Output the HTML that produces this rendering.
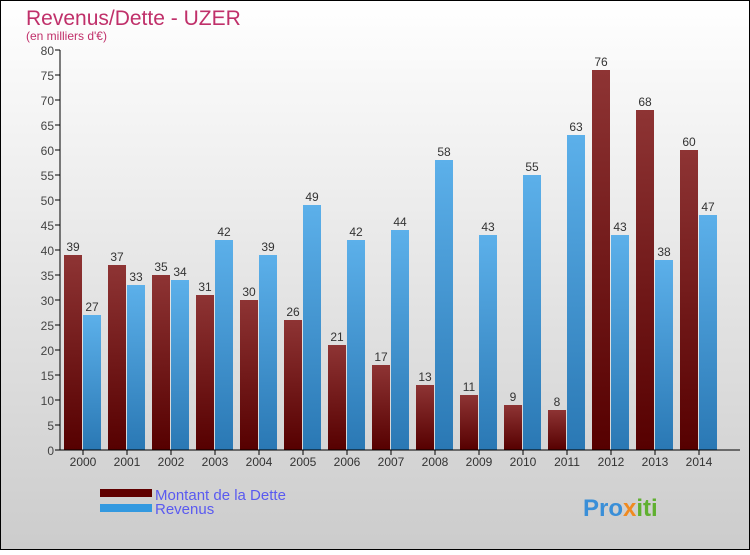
<!DOCTYPE html>
<html><head><meta charset="utf-8"><style>
body{margin:0;width:750px;height:550px;overflow:hidden;font-family:"Liberation Sans",sans-serif}
</style></head><body>
<svg width="750" height="550" xmlns="http://www.w3.org/2000/svg">
<defs>
<linearGradient id="bg" x1="0" y1="0" x2="0" y2="1"><stop offset="0" stop-color="#ffffff"/><stop offset="1" stop-color="#cccccc"/></linearGradient>
<linearGradient id="gd" x1="0" y1="0" x2="0" y2="1"><stop offset="0" stop-color="#8e3434"/><stop offset="1" stop-color="#560000"/></linearGradient>
<linearGradient id="gr" x1="0" y1="0" x2="0" y2="1"><stop offset="0" stop-color="#5cb0ea"/><stop offset="1" stop-color="#2a78b4"/></linearGradient>
</defs>
<rect x="0.5" y="0.5" width="749" height="549" fill="url(#bg)" stroke="#000"/>
<text x="26" y="25" font-size="21" fill="#c0306a">Revenus/Dette - UZER</text>
<text x="26" y="40" font-size="12" fill="#c0306a">(en milliers d'€)</text>
<g id="plot"></g>
<rect x="100" y="489" width="52" height="8" fill="#600000"/>
<rect x="100" y="504" width="52" height="8" fill="#3399e0"/>
<text x="155" y="500" font-size="15" fill="#5a5af0">Montant de la Dette</text>
<text x="155" y="514" font-size="15" fill="#5a5af0">Revenus</text>
<text x="583" y="516" font-size="24" font-weight="bold" fill="#3a8fd8">Pro<tspan fill="#f08a20">x</tspan><tspan fill="#60b030">iti</tspan></text>
</svg>
<script>
const years=["2000","2001","2002","2003","2004","2005","2006","2007","2008","2009","2010","2011","2012","2013","2014"];
const dette=[39,37,35,31,30,26,21,17,13,11,9,8,76,68,60];
const revenus=[27,33,34,42,39,49,42,44,58,43,55,63,43,38,47];
const yTicks=[0,5,10,15,20,25,30,35,40,45,50,55,60,65,70,75,80];
const NS="http://www.w3.org/2000/svg";
const g=document.getElementById('plot');
const y=v=>450-v*5;
const xc=i=>83+i*44;
function mk(t,a,txt){const e=document.createElementNS(NS,t);for(const k in a)e.setAttribute(k,a[k]);if(txt!==undefined)e.textContent=txt;g.appendChild(e);return e;}
yTicks.forEach(t=>{
 const l=mk('line',{x1:55,x2:60,y1:y(t),y2:y(t),stroke:'#000'});
 
 
 const tx=mk('text',{x:54,y:y(t)+5,'text-anchor':'end','font-size':12,fill:'#444'},t);
 
 
});
years.forEach((yr,i)=>{
 const c=xc(i);
 const b1=mk('rect',{x:c-19,y:y(dette[i]),width:18,height:dette[i]*5,fill:'url(#gd)'});
 
 
 const b2=mk('rect',{x:c,y:y(revenus[i]),width:18,height:revenus[i]*5,fill:'url(#gr)'});
 
 
 const v1=mk('text',{x:c-10,y:y(dette[i])-4,'text-anchor':'middle','font-size':12,fill:'#333'},dette[i]);
 
 
 const v2=mk('text',{x:c+9,y:y(revenus[i])-4,'text-anchor':'middle','font-size':12,fill:'#333'},revenus[i]);
 
 
 const tk=mk('line',{x1:c,x2:c,y1:450,y2:455,stroke:'#000'});
 
 
 const xl=mk('text',{x:c,y:466,'text-anchor':'middle','font-size':12,fill:'#333'},yr);
 
 
});
const ya=mk('line',{x1:60,x2:60,y1:50,y2:450,stroke:'#000'});


const xa=mk('line',{x1:60,x2:740,y1:450,y2:450,stroke:'#000'});


</script>
</body></html>
